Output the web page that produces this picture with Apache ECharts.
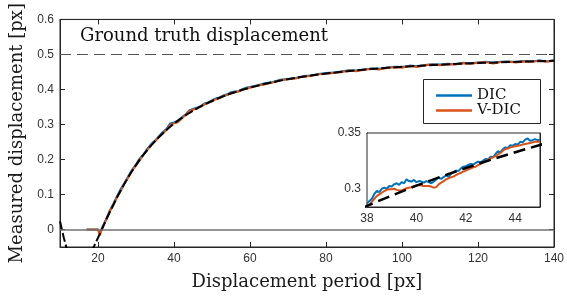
<!DOCTYPE html>
<html>
<head>
<meta charset="utf-8">
<script src="https://cdn.jsdelivr.net/npm/echarts@6/dist/echarts.min.js"></script>
<style>
  html, body { margin: 0; padding: 0; background: #fff; }
  #chart { width: 567px; height: 296px; }
</style>
</head>
<body>
<div id="chart"></div>
<script>
// model curve (black dashed)
var modelX = [10, 10.5, 11, 12, 13, 14, 15, 16, 17, 18, 19, 20, 21, 22, 23, 24, 25, 26, 27, 28, 29, 30,
  31, 32, 33, 34, 35, 36, 37, 38, 39, 40, 41, 42, 43, 44, 45, 46, 47, 48, 49, 50, 52, 54, 56, 58, 60,
  64, 68, 72, 76, 80, 84, 88, 92, 96, 100, 105, 110, 115, 120, 125, 130, 135, 140];
var modelY = [0.0234, 0, -0.0235, -0.0643, -0.0921, -0.1061, -0.1081, -0.1008, -0.0868, -0.0682, -0.0468, -0.0237,
  0, 0.0237, 0.0470, 0.0696, 0.0913, 0.1119, 0.1315, 0.1501, 0.1675, 0.1839,
  0.1994, 0.2139, 0.2276, 0.2403, 0.2523, 0.2635, 0.2742, 0.2840, 0.2934, 0.3023, 0.3105, 0.3183, 0.3257, 0.3326, 0.3392,
  0.3454, 0.3513, 0.3568, 0.3620, 0.3670, 0.3763, 0.3846, 0.3921, 0.3989, 0.4052,
  0.4160, 0.4252, 0.4329, 0.4395, 0.4452, 0.4502, 0.4545, 0.4584, 0.4617, 0.4645, 0.4677, 0.4706, 0.4731, 0.4752,
  0.4771, 0.4789, 0.4803, 0.4817];

// measured curves, main plot
var dicX = [17, 18, 19, 20, 20.5, 21, 22, 23, 24, 25, 26, 27, 28, 29, 30, 31, 32, 33, 34, 35, 36, 37, 38, 39, 40,
  41, 42, 43, 44, 45, 46, 47, 48, 49, 50, 51, 52, 53, 54, 55, 56, 57, 58, 59, 60,
  62, 64, 66, 68, 70, 72, 74, 76, 78, 80, 82, 84, 86, 88, 90, 92, 94, 96, 98, 100,
  102, 104, 106, 108, 110, 112, 114, 116, 118, 120, 122, 124, 126, 128, 130, 132, 134, 136, 138, 140];
var dicY = [0, 0, 0, 0, -0.012, 0.003, 0.027, 0.052, 0.072, 0.095, 0.116, 0.133, 0.153, 0.171, 0.186,
  0.203, 0.215, 0.231, 0.244, 0.254, 0.266, 0.278, 0.287, 0.303, 0.306,
  0.311, 0.320, 0.328, 0.340, 0.344, 0.348, 0.352, 0.360, 0.363, 0.369, 0.374, 0.377, 0.383, 0.386, 0.392,
  0.394, 0.395, 0.401, 0.405, 0.407,
  0.412, 0.418, 0.421, 0.428, 0.430, 0.433, 0.438, 0.440, 0.444, 0.447, 0.448, 0.451, 0.455, 0.454, 0.457,
  0.460, 0.459, 0.462, 0.465, 0.464,
  0.468, 0.466, 0.470, 0.472, 0.471, 0.473, 0.472, 0.476, 0.475, 0.477, 0.479, 0.476, 0.479, 0.480, 0.478,
  0.481, 0.479, 0.483, 0.480, 0.483];
var vdicY = [0, 0, 0, 0, -0.017, 0.001, 0.024, 0.049, 0.068, 0.092, 0.110, 0.133, 0.149, 0.168, 0.183,
  0.198, 0.214, 0.227, 0.241, 0.251, 0.264, 0.273, 0.284, 0.299, 0.303,
  0.306, 0.316, 0.327, 0.338, 0.342, 0.346, 0.350, 0.357, 0.362, 0.366, 0.372, 0.375, 0.381, 0.384, 0.390,
  0.392, 0.394, 0.399, 0.402, 0.405,
  0.411, 0.415, 0.420, 0.426, 0.429, 0.431, 0.437, 0.438, 0.443, 0.445, 0.447, 0.449, 0.454, 0.452, 0.456,
  0.459, 0.457, 0.461, 0.463, 0.462,
  0.467, 0.464, 0.469, 0.471, 0.469, 0.472, 0.471, 0.475, 0.473, 0.476, 0.478, 0.474, 0.478, 0.479, 0.477,
  0.480, 0.478, 0.482, 0.479, 0.482];

// zoomed inset, 38..45 px
var insetX = [38.0, 38.1, 38.2, 38.3, 38.4, 38.5, 38.6, 38.7, 38.8, 38.9, 39.0, 39.1, 39.2, 39.3, 39.4, 39.5,
  39.6, 39.7, 39.8, 39.9, 40.0, 40.1, 40.2, 40.3, 40.4, 40.5, 40.6, 40.7, 40.8, 40.9, 41.0, 41.1, 41.2, 41.3,
  41.4, 41.5, 41.6, 41.7, 41.8, 41.9, 42.0, 42.1, 42.2, 42.3, 42.4, 42.5, 42.6, 42.7, 42.8, 42.9, 43.0, 43.1,
  43.2, 43.3, 43.4, 43.5, 43.6, 43.7, 43.8, 43.9, 44.0, 44.1, 44.2, 44.3, 44.4, 44.5, 44.6, 44.7, 44.8, 44.9, 45.0];
var insetDic = [0.2860, 0.2885, 0.2905, 0.2950, 0.2975, 0.2965, 0.2995, 0.3005, 0.2995, 0.3020, 0.3015, 0.3035,
  0.3045, 0.3030, 0.3055, 0.3045, 0.3080, 0.3065, 0.3060, 0.3075, 0.3055, 0.3065, 0.3060, 0.3050, 0.3065, 0.3055,
  0.3045, 0.3060, 0.3080, 0.3095, 0.3085, 0.3100, 0.3115, 0.3105, 0.3130, 0.3145, 0.3160, 0.3155, 0.3180, 0.3195,
  0.3200, 0.3210, 0.3220, 0.3215, 0.3230, 0.3240, 0.3235, 0.3250, 0.3265, 0.3260, 0.3285, 0.3280, 0.3310, 0.3335,
  0.3325, 0.3355, 0.3370, 0.3365, 0.3390, 0.3385, 0.3400, 0.3395, 0.3420, 0.3415, 0.3440, 0.3450, 0.3430, 0.3435,
  0.3445, 0.3435, 0.3440];
var insetVdic = [0.2835, 0.2850, 0.2880, 0.2905, 0.2930, 0.2945, 0.2960, 0.2975, 0.2985, 0.2990, 0.2990, 0.2995,
  0.2985, 0.2980, 0.2980, 0.2990, 0.3000, 0.3005, 0.3010, 0.3020, 0.3025, 0.3030, 0.3025, 0.3020, 0.3020, 0.3020,
  0.3015, 0.3005, 0.3010, 0.3035, 0.3050, 0.3065, 0.3080, 0.3090, 0.3100, 0.3105, 0.3120, 0.3130, 0.3140, 0.3150,
  0.3160, 0.3170, 0.3180, 0.3190, 0.3195, 0.3210, 0.3220, 0.3235, 0.3245, 0.3260, 0.3270, 0.3280, 0.3290, 0.3305,
  0.3320, 0.3340, 0.3355, 0.3360, 0.3370, 0.3375, 0.3380, 0.3385, 0.3390, 0.3395, 0.3400, 0.3405, 0.3410, 0.3415,
  0.3420, 0.3420, 0.3420];

var xTicks = [20, 40, 60, 80, 100, 120, 140];
var yTicks = [0, 0.1, 0.2, 0.3, 0.4, 0.5, 0.6];
var insetXTicks = [38, 40, 42, 44];
var insetYTicks = [0.3, 0.35];

function zip(xs, ys) {
  var out = [];
  for (var i = 0; i < xs.length; i++) out.push([xs[i], ys[i]]);
  return out;
}

var AX = '#262626';
var BLUE = '#0072BD';
var ORANGE = '#D95319';
var serif = '"DejaVu Serif", "Liberation Serif", serif';
var sans = '"Liberation Sans", Arial, sans-serif';

function boxAxis(opts) {
  // MATLAB style axis: ticks inward, no grid lines
  var a = {
    type: 'value',
    gridIndex: opts.grid,
    position: opts.position,
    min: opts.min,
    max: opts.max,
    axisLine: { show: true, onZero: false, lineStyle: { color: AX, width: 1 } },
    axisTick: { show: true, inside: true, length: 5, customValues: opts.ticks, lineStyle: { color: AX } },
    axisLabel: opts.labels ? { show: true, customValues: opts.ticks, color: '#333', fontFamily: sans, fontSize: 12, margin: 6 } : { show: false },
    splitLine: { show: false }
  };
  if (opts.name) {
    a.name = opts.name;
    a.nameLocation = 'middle';
    a.nameGap = opts.nameGap;
    a.nameTextStyle = { fontFamily: serif, fontSize: 18, color: '#1a1a1a' };
  }
  return a;
}

var chart = echarts.init(document.getElementById('chart'), null, { renderer: 'canvas' });

chart.setOption({
  animation: false,
  backgroundColor: '#fff',
  grid: [
    { left: 60, right: 10, top: 19, bottom: 49, show: true, borderColor: AX, borderWidth: 1, backgroundColor: '#fff' },
    { left: 367, top: 133, width: 173, height: 74, show: true, borderColor: AX, borderWidth: 1, backgroundColor: '#fff', z: 5 }
  ],
  xAxis: [
    boxAxis({ grid: 0, position: 'bottom', min: 10, max: 140, ticks: xTicks, labels: true, name: 'Displacement period [px]', nameGap: 26 }),
    boxAxis({ grid: 0, position: 'top', min: 10, max: 140, ticks: xTicks, labels: false }),
    boxAxis({ grid: 1, position: 'bottom', min: 38, max: 45, ticks: insetXTicks, labels: true }),
    boxAxis({ grid: 1, position: 'top', min: 38, max: 45, ticks: insetXTicks, labels: false })
  ],
  yAxis: [
    boxAxis({ grid: 0, position: 'left', min: -0.05, max: 0.6, ticks: yTicks, labels: true, name: 'Measured displacement [px]', nameGap: 32 }),
    boxAxis({ grid: 0, position: 'right', min: -0.05, max: 0.6, ticks: yTicks, labels: false }),
    boxAxis({ grid: 1, position: 'left', min: 0.283, max: 0.35, ticks: insetYTicks, labels: true }),
    boxAxis({ grid: 1, position: 'right', min: 0.283, max: 0.35, ticks: insetYTicks, labels: false })
  ],
  legend: {
    data: [
      { name: 'DIC', icon: 'rect' },
      { name: 'V-DIC', icon: 'rect' }
    ],
    orient: 'vertical',
    left: 431,
    top: 83,
    itemWidth: 36,
    itemHeight: 2.5,
    itemGap: 0,
    selectedMode: false,
    textStyle: { fontFamily: serif, fontSize: 15, color: '#111' },
    z: 10
  },
  graphic: [
    { type: 'rect', left: 423, top: 79, z: 9, shape: { width: 117, height: 44 }, style: { fill: '#fff', stroke: AX, lineWidth: 1 } },
    { type: 'text', left: 80, top: 27, z: 10, style: { text: 'Ground truth displacement', font: '18px ' + serif, fill: '#111' } }
  ],
  series: [
    {
      name: 'DIC', type: 'line', xAxisIndex: 0, yAxisIndex: 0, symbol: 'none',
      data: zip(dicX, dicY), lineStyle: { color: BLUE, width: 2 }, itemStyle: { color: BLUE }, z: 2
    },
    {
      name: 'V-DIC', type: 'line', xAxisIndex: 0, yAxisIndex: 0, symbol: 'none',
      data: zip(dicX, vdicY), lineStyle: { color: ORANGE, width: 2 }, itemStyle: { color: ORANGE }, z: 3
    },
    {
      name: 'model', type: 'line', xAxisIndex: 0, yAxisIndex: 0, symbol: 'none', smooth: false,
      data: zip(modelX, modelY), lineStyle: { color: '#000', width: 2, type: [9, 3] }, z: 4,
      markLine: {
        silent: true, symbol: 'none', label: { show: false },
        data: [
          { yAxis: 0.5, lineStyle: { color: '#555', width: 1, type: [11, 6] } },
          { yAxis: 0, lineStyle: { color: '#707070', width: 1.5, type: 'solid' } }
        ]
      }
    },
    {
      name: 'DIC', type: 'line', xAxisIndex: 2, yAxisIndex: 2, symbol: 'none',
      data: zip(insetX, insetDic), lineStyle: { color: BLUE, width: 2 }, itemStyle: { color: BLUE }, z: 6
    },
    {
      name: 'V-DIC', type: 'line', xAxisIndex: 2, yAxisIndex: 2, symbol: 'none',
      data: zip(insetX, insetVdic), lineStyle: { color: ORANGE, width: 2 }, itemStyle: { color: ORANGE }, z: 7
    },
    {
      name: 'model', type: 'line', xAxisIndex: 2, yAxisIndex: 2, symbol: 'none',
      data: zip(modelX, modelY), lineStyle: { color: '#000', width: 2.5, type: [12, 6] }, z: 8
    }
  ]
});
</script>
</body>
</html>
